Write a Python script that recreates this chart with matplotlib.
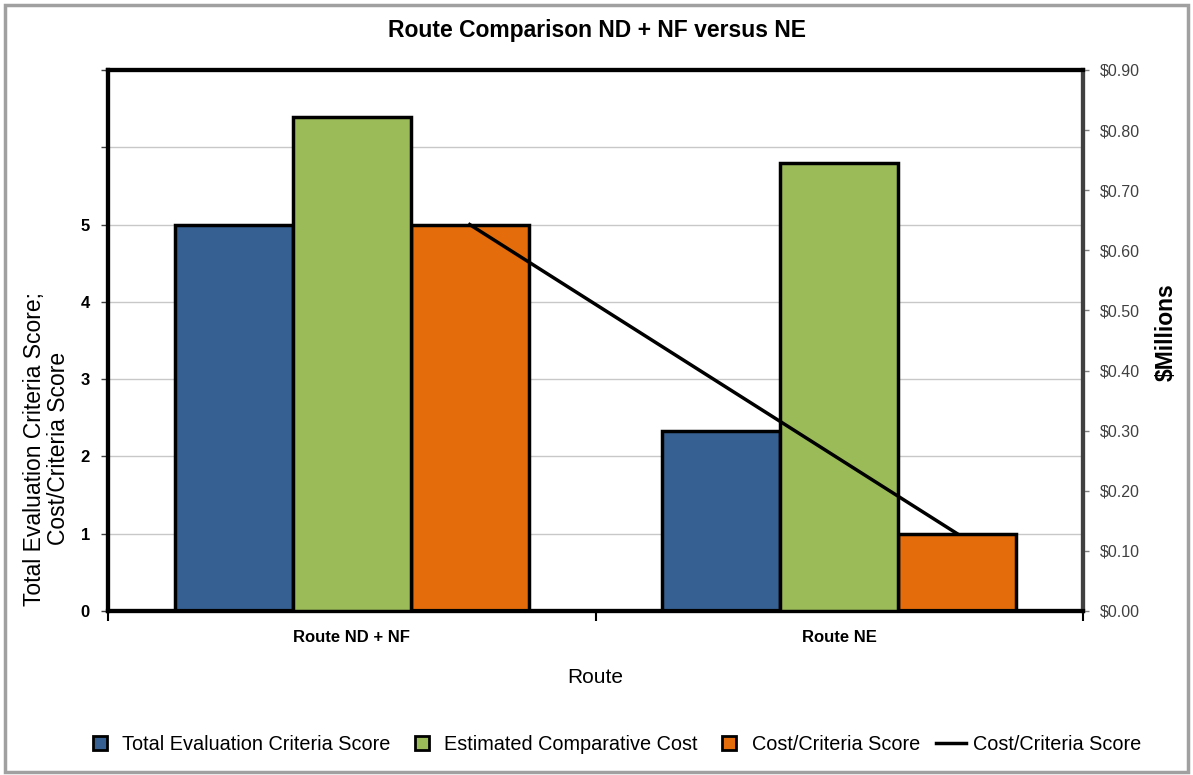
import matplotlib
matplotlib.use("Agg")
import matplotlib.pyplot as plt
import numpy as np
from matplotlib.lines import Line2D

plt.rcParams['font.family'] = ['Liberation Sans', 'DejaVu Sans']

routes = ["Route ND + NF", "Route NE"]
total_score = [5.0, 2.33]
est_cost = [0.822, 0.745]          # $ millions
cost_criteria = [5.0, 1.0]

blue = "#366092"
green = "#9BBB59"
orange = "#E46C0A"

fig = plt.figure(figsize=(11.93, 7.75), dpi=100)
fig.patches.append(plt.Rectangle((0.004, 0.004), 0.992, 0.990, transform=fig.transFigure,
                                 fill=False, edgecolor="#a0a0a0", linewidth=2.5))

ax = fig.add_axes([108 / 1193, 1 - 611 / 775, (1083 - 108) / 1193, (611 - 70) / 775])
ax2 = ax.twinx()

x = np.arange(len(routes))
w = 0.242

ax.bar(x - w, total_score, w, color=blue, edgecolor="black", linewidth=2.5, zorder=3)
ax.bar(x + w, cost_criteria, w, color=orange, edgecolor="black", linewidth=2.5, zorder=3)
ax2.bar(x, est_cost, w, color=green, edgecolor="black", linewidth=2.5, zorder=3)
ax2.plot(x + w, [v * 0.9 / 7 for v in cost_criteria], color="black", linewidth=2.5, zorder=4)

ax.set_xlim(-0.5, 1.5)
ax.set_ylim(0, 7)
ax2.set_ylim(0, 0.9)

ax.set_yticks(range(0, 8))
ax.set_yticklabels(["0", "1", "2", "3", "4", "5", "", ""], fontweight="bold", fontsize=12)
ax.yaxis.grid(True, color="#c8c8c8", linewidth=1, zorder=0)
ax.set_axisbelow(True)
ax.tick_params(axis="y", length=5, width=1, color="#404040", pad=8)

ax.set_xticks(x)
ax.set_xticklabels(routes, fontweight="bold", fontsize=12)
ax.set_xticks([-0.5, 0.5, 1.5], minor=True)
ax.tick_params(axis="x", which="major", length=0, pad=14)
ax.tick_params(axis="x", which="minor", length=7, width=1.5, color="black", direction="out")

ax2.set_yticks(np.arange(0, 0.91, 0.1))
ax2.set_yticklabels([f"${v:.2f}" for v in np.arange(0, 0.91, 0.1)], fontsize=11.5, color="#404040")
ax2.tick_params(axis="y", length=4, width=1, color="#808080", pad=8)

for a in (ax, ax2):
    for side in ("top", "bottom", "left"):
        a.spines[side].set_linewidth(3)
        a.spines[side].set_color("black")
    a.spines["right"].set_linewidth(3)
    a.spines["right"].set_color("#404040")

ax.set_xlabel("Route", fontsize=15)
ax.xaxis.set_label_coords(0.5, -0.105)
ax.set_ylabel("Total Evaluation Criteria Score;\nCost/Criteria Score", fontsize=16.5,
              linespacing=1.05)
ax.yaxis.set_label_coords(-0.039, 0.30)
ax2.set_ylabel("$Millions", fontsize=16.5, fontweight="bold")
ax2.yaxis.set_label_coords(1.074, 0.516)

fig.suptitle("Route Comparison ND + NF versus NE", fontsize=16.5, fontweight="bold", y=0.975)

handles = [
    Line2D([], [], marker="s", linestyle="none", markersize=10, markerfacecolor=blue,
           markeredgecolor="black", markeredgewidth=2),
    Line2D([], [], marker="s", linestyle="none", markersize=10, markerfacecolor=green,
           markeredgecolor="black", markeredgewidth=2),
    Line2D([], [], marker="s", linestyle="none", markersize=10, markerfacecolor=orange,
           markeredgecolor="black", markeredgewidth=2),
    Line2D([], [], color="black", linewidth=2.5),
]
labels = ["Total Evaluation Criteria Score", "Estimated Comparative Cost",
          "Cost/Criteria Score", "Cost/Criteria Score"]
fig.legend(handles, labels, loc="center", bbox_to_anchor=(0.514, 0.039), ncol=4,
           frameon=False, fontsize=14.3, handlelength=1.5, handletextpad=0.4,
           columnspacing=0.8)

fig.savefig("out.png", dpi=100)
